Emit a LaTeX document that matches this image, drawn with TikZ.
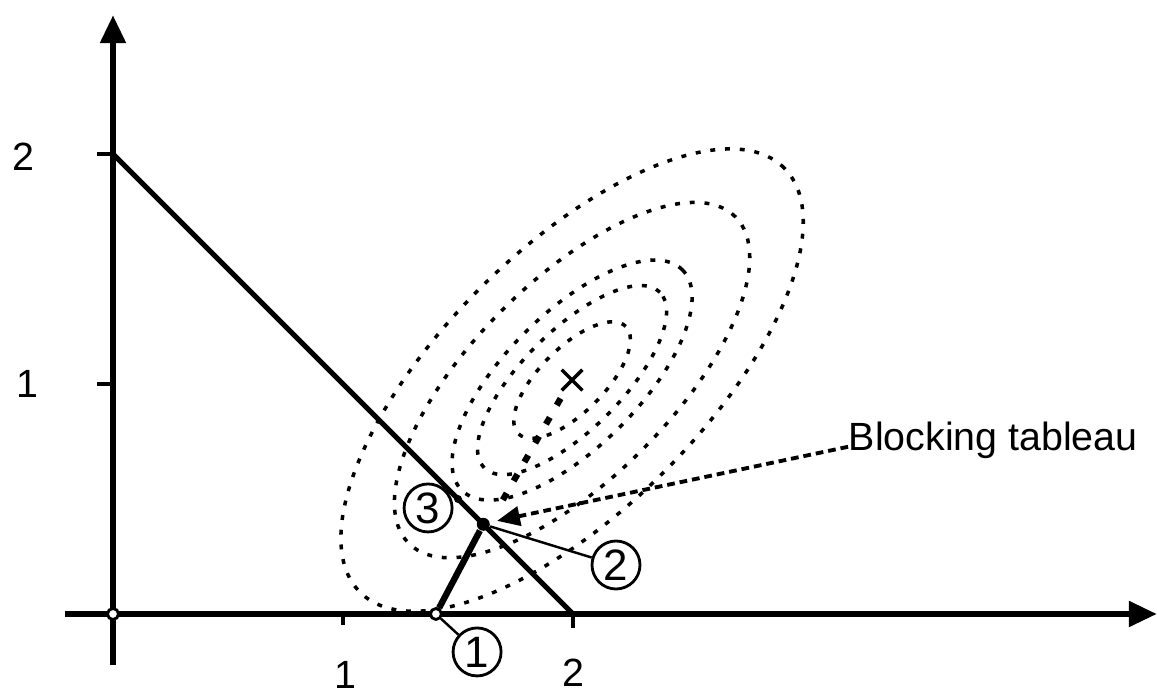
\documentclass[tikz,border=0pt]{standalone}
\usepackage{fontspec}
\setmainfont{Liberation Sans}
\usetikzlibrary{arrows.meta,positioning,calc}

\begin{document}
\begin{tikzpicture}[
    x=2.3cm, y=2.3cm,
    font=\fontsize{11.2}{13}\selectfont,
    axis/.style={line width=1.8pt, -{Triangle[length=8pt,width=7pt]}},
    tick/.style={line width=1.3pt},
    constr/.style={line width=1.5pt},
    contour/.style={line width=1pt, dash pattern=on 1.4pt off 2.8pt},
    iterpath/.style={line width=1.8pt, dash pattern=on 2.2pt off 4pt},
    numlbl/.style={draw, circle, line width=0.8pt, minimum size=0.48cm, inner sep=0pt, font=\fontsize{12.5}{14}\selectfont},
    opendot/.style={draw, circle, fill=white, line width=0.8pt, minimum size=0.11cm, inner sep=0pt},
    fulldot/.style={fill, circle, minimum size=0.13cm, inner sep=0pt},
    leader/.style={line width=0.7pt}
]
\useasboundingbox (-0.4913,-0.3565) rectangle (4.5391,2.6696);

% Axes
\coordinate (xstart) at (-0.21,0);
\coordinate (xend) at (4.539,0);
\coordinate (ystart) at (0,-0.222);
\coordinate (yend) at (0,2.604);
\draw[axis] (xstart) -- (xend);
\draw[axis] (ystart) -- (yend);

% Ticks and labels
\draw[tick] (1,0) -- (1,-0.05);
\draw[tick] (2,0) -- (2,-0.06);
\draw[tick] (0,1) -- (-0.07,1);
\draw[tick] (0,2) -- (-0.07,2);
\node (xone) at (1.009,-0.265) {1};
\node (xtwo) at (2,-0.257) {2};
\node (yone) at (-0.37,1) {1};
\node (ytwo) at (-0.39,1.99) {2};

% Contours around the optimum
\coordinate (opt) at (1.996,1.017);
\begin{scope}[shift={(opt)}, rotate=45]
    \draw[contour] (0,0) ellipse [x radius=1.304, y radius=0.565];
    \draw[contour] (0,0) ellipse [x radius=1.004, y radius=0.430];
    \draw[contour] (0,0) ellipse [x radius=0.678, y radius=0.291];
    \draw[contour] (0,0) ellipse [x radius=0.540, y radius=0.215];
    \draw[contour] (0,0) ellipse [x radius=0.330, y radius=0.140];
\end{scope}
\draw[line width=1pt] ($(opt)+(-0.045,-0.045)$) -- ($(opt)+(0.045,0.045)$)
    ($(opt)+(-0.045,0.045)$) -- ($(opt)+(0.045,-0.045)$);

% Constraint and path
\coordinate (ytop) at (0,2);
\coordinate (xtop) at (2,0);
\draw[constr] (ytop) -- (xtop);

\node[opendot] (orig) at (0,0) {};
\node[opendot] (p1) at (1.404,0) {};
\node[fulldot] (p2) at (1.61,0.39) {};
\node[fill, circle, minimum size=0.08cm, inner sep=0pt] (p3) at (1.5,0.5) {};
\draw[line width=1.8pt] (p1) -- (p2);
\draw[iterpath] ($(opt)+(-0.05,-0.08)$) -- ($(p2)+(0.07,0.08)$);

% Numbered points
\node[numlbl] (n1) at (1.583,-0.165) {1};
\node[numlbl] (n2) at (2.187,0.213) {2};
\node[numlbl] (n3) at (1.370,0.461) {3};
\draw[leader] (p1) -- (n1);
\draw[leader] (p2) -- (n2);

% Blocking tableau
\node[anchor=west, inner sep=0pt] (blk) at (3.196,0.757) {Blocking tableau};
\draw[line width=1.1pt, dash pattern=on 2.2pt off 1.4pt, -{Triangle[length=6.5pt,width=5.5pt]}]
    ($(blk.west)+(0,-0.03)$) -- ($(p2)+(0.06,0.015)$);

\end{tikzpicture}
\end{document}
